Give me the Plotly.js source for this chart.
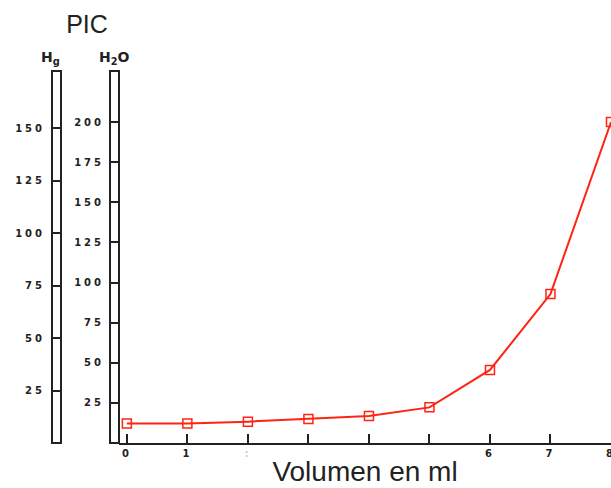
<!DOCTYPE html>
<html>
<head>
<meta charset="utf-8">
<script src="https://cdn.plot.ly/plotly-3.0.1.min.js"></script>
<style>
html,body{margin:0;padding:0;background:#fff;}
#chart{width:611px;height:488px;}
.ytick text, .y2tick text, .xtick text { letter-spacing: 3px; }
</style>
</head>
<body>
<div id="chart"></div>
<script>
// Data
const volumeMl = [0, 1, 2, 3, 4, 5, 6, 7, 8];
const picH2O = [12.2, 12.2, 13.3, 15, 16.8, 22.2, 45.5, 92.8, 200];
const xTickVals = [0, 1, 2, 6, 7, 8];
const xTickText = ["0", "1", "<span style='color:#ccc'>:</span>", "6", "7", "8"];
const xMinorTicks = [3, 4, 5];
const h2oTicks = [25, 50, 75, 100, 125, 150, 175, 200];
const hgTicks = [25, 50, 75, 100, 125, 150];

const W = 611, H = 488;
const mL = 50, mR = 0, mT = 71, mB = 45;
const plotW = W - mL - mR;
const px = v => (v - mL) / plotW;   // pixel x -> paper x
const dom0 = px(119);

const tickFont = {family: 'DejaVu Sans, sans-serif', size: 10, color: '#222', weight: 'bold'};

const trace = {
  x: volumeMl, y: picH2O, type: 'scatter', mode: 'lines+markers',
  line: {color: 'rgb(255,35,20)', width: 2},
  marker: {symbol: 'square-open', size: 9, color: 'rgb(255,35,20)', line: {width: 1.5}},
  cliponaxis: true, xaxis: 'x', yaxis: 'y', showlegend: false
};

const layout = {
  width: W, height: H,
  margin: {l: mL, r: mR, t: mT, b: mB},
  paper_bgcolor: '#fff', plot_bgcolor: '#fff',
  showlegend: false,
  title: {text: 'PIC', font: {family: 'Liberation Sans, Arial, sans-serif', size: 25, color: '#222'},
          xref: 'container', yref: 'container', x: 87 / W, xanchor: 'center', y: 1 - 24 / H, yanchor: 'middle'},
  xaxis: {
    domain: [dom0, 1], range: [-0.13, 8],
    tickmode: 'array', tickvals: xTickVals, ticktext: xTickText,
    ticks: 'inside', ticklen: 9, tickwidth: 2, tickcolor: '#222',
    minor: {tickmode: 'array', tickvals: xMinorTicks, ticks: 'inside', ticklen: 9, tickwidth: 2, tickcolor: '#222', showgrid: false},
    showline: true, linewidth: 2, linecolor: '#222', showgrid: false, zeroline: false,
    tickfont: tickFont, ticklabeloverflow: 'allow',
    title: {text: 'Volumen en ml', font: {family: 'Liberation Sans, Arial, sans-serif', size: 28, color: '#222'}, standoff: 3},
    automargin: false, fixedrange: true
  },
  yaxis: {
    domain: [0, 1], range: [0, (443 - 71) / 1.605],
    tickmode: 'array', tickvals: h2oTicks,
    ticks: 'outside', ticklen: 9, tickwidth: 2, tickcolor: '#222',
    showline: false, showgrid: false, zeroline: false,
    tickfont: tickFont, ticklabelstandoff: 3, automargin: false
  },
  yaxis2: {
    overlaying: 'y', anchor: 'free', position: px(61), side: 'left',
    range: [0, (443 - 71) / 2.1],
    tickmode: 'array', tickvals: hgTicks,
    ticks: 'outside', ticklen: 9, tickwidth: 2, tickcolor: '#222',
    showline: false, showgrid: false, zeroline: false,
    tickfont: tickFont, ticklabelstandoff: 5, automargin: false
  },
  shapes: [
    {type: 'rect', xref: 'paper', yref: 'paper', x0: px(52), x1: px(61), y0: 0, y1: 1,
     line: {color: '#222', width: 2}, fillcolor: 'rgba(0,0,0,0)', layer: 'above'},
    {type: 'rect', xref: 'paper', yref: 'paper', x0: px(110), x1: px(119), y0: 0, y1: 1,
     line: {color: '#222', width: 2}, fillcolor: 'rgba(0,0,0,0)', layer: 'above'}
  ],
  annotations: [
    {text: 'H<sub>g</sub>', xref: 'paper', yref: 'paper', x: px(50), y: 1, yshift: 2, xanchor: 'center', yanchor: 'bottom',
     showarrow: false, font: {family: 'DejaVu Sans, sans-serif', size: 14, color: '#222', weight: 'bold'}},
    {text: 'H<sub>2</sub>O', xref: 'paper', yref: 'paper', x: px(114), y: 1, yshift: 2, xanchor: 'center', yanchor: 'bottom',
     showarrow: false, font: {family: 'DejaVu Sans, sans-serif', size: 14, color: '#222', weight: 'bold'}}
  ]
};

// invisible point that switches on the Hg axis
const hgTrace = {x: [0], y: [0], xaxis: 'x', yaxis: 'y2', mode: 'markers', marker: {opacity: 0}, hoverinfo: 'skip', showlegend: false};

Plotly.newPlot('chart', [hgTrace, trace], layout, {staticPlot: true, displayModeBar: false});
</script>
</body>
</html>
